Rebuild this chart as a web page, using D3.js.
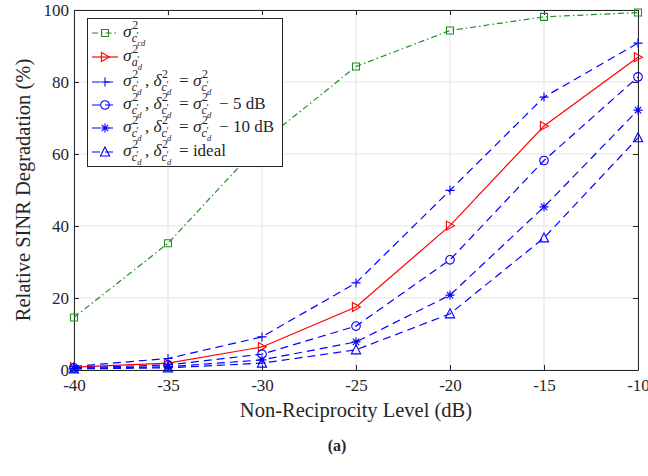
<!DOCTYPE html>
<html>
<head>
<meta charset="utf-8">
<script src="https://cdn.jsdelivr.net/npm/d3@7"></script>
<style>
  body { margin: 0; background: #fff; }
  svg text { font-family: "Liberation Serif", "DejaVu Serif", serif; fill: #262626; white-space: pre; }
</style>
</head>
<body>
<svg id="chart" width="648" height="476"></svg>
<script>
// values
var levels = [-40, -35, -30, -25, -20, -15, -10];
var xTicks = [-40, -35, -30, -25, -20, -15, -10];
var yTicks = [0, 20, 40, 60, 80, 100];

var sigmaCd   = [14.6, 35.2, 63.3, 84.3, 94.3, 98.1, 99.3];
var sigmaAd   = [0.8, 1.9, 6.4, 17.5, 40.1, 67.8, 86.9];
var deltaEq   = [1.0, 3.2, 9.2, 24.2, 49.9, 75.8, 90.8];
var deltaM5   = [0.6, 1.4, 4.4, 12.2, 30.6, 58.2, 81.4];
var deltaM10  = [0.4, 0.9, 2.8, 7.8, 20.8, 45.3, 72.2];
var deltaIdl  = [0.3, 0.6, 1.9, 5.6, 15.6, 36.7, 64.5];

var seriesNames = ["sigmaCd", "sigmaAd", "deltaEq", "deltaM5", "deltaM10", "deltaIdl"];

var svg = d3.select("#chart");
var plotL = 74, plotR = 638, plotT = 10, plotB = 370;

var x = d3.scaleLinear().domain([-40, -10]).range([plotL, plotR]);
var y = d3.scaleLinear().domain([0, 100]).range([plotB, plotT]);

// grid
svg.append("g").selectAll("line").data(xTicks).join("line")
    .attr("x1", d => x(d)).attr("x2", d => x(d))
    .attr("y1", plotT).attr("y2", plotB)
    .style("stroke", "#e3e3e3").style("stroke-width", "1px");
svg.append("g").selectAll("line").data(yTicks).join("line")
    .attr("x1", plotL).attr("x2", plotR)
    .attr("y1", d => y(d)).attr("y2", d => y(d))
    .style("stroke", "#e3e3e3").style("stroke-width", "1px");

// axes, ticks pointing inwards
function styleAxis(g) {
  g.selectAll("path, line").style("stroke", "#262626").style("stroke-width", "1px");
  g.selectAll("text").style("font-size", "17px").style("font-family", '"Liberation Serif", serif').style("fill", "#262626");
}
svg.append("g").attr("transform", "translate(0," + plotB + ")")
    .call(d3.axisBottom(x).tickValues(xTicks).tickFormat(d => String(d)).tickSizeInner(-5).tickSizeOuter(0).tickPadding(9))
    .call(styleAxis);
svg.append("g").attr("transform", "translate(0," + plotT + ")")
    .call(d3.axisTop(x).tickValues(xTicks).tickFormat("").tickSizeInner(-5).tickSizeOuter(0))
    .call(styleAxis);
svg.append("g").attr("transform", "translate(" + plotL + ",0)")
    .call(d3.axisLeft(y).tickValues(yTicks).tickFormat(d => String(d)).tickSizeInner(-5).tickSizeOuter(0).tickPadding(5))
    .call(styleAxis);
svg.append("g").attr("transform", "translate(" + plotR + ",0)")
    .call(d3.axisRight(y).tickValues(yTicks).tickFormat("").tickSizeInner(-5).tickSizeOuter(0))
    .call(styleAxis);

// markers (shape only, centred at 0,0)
var markerPath = {
  square:  "M-3.5,-3.5H3.5V3.5H-3.5Z",
  tright:  "M-3.6,-4.5L4.4,0L-3.6,4.5Z",
  plus:    "M-4.5,0H4.5M0,-4.5V4.5",
  circle:  "M4.3,0A4.3,4.3 0 1,1 -4.3,0A4.3,4.3 0 1,1 4.3,0Z",
  star:    "M-4.5,0H4.5M0,-4.5V4.5M-3.2,-3.2L3.2,3.2M-3.2,3.2L3.2,-3.2",
  tup:     "M0,-5L4.6,4L-4.6,4Z"
};

var styles = {
  sigmaCd:  { color: "#1f8f1f", dash: "6,3,1.5,3", marker: "square" },
  sigmaAd:  { color: "#ff0000", dash: null,        marker: "tright" },
  deltaEq:  { color: "#0000ff", dash: "8,5",       marker: "plus" },
  deltaM5:  { color: "#0000ff", dash: "8,5",       marker: "circle" },
  deltaM10: { color: "#0000ff", dash: "8,5",       marker: "star" },
  deltaIdl: { color: "#0000ff", dash: "8,5",       marker: "tup" }
};
var values = { sigmaCd: sigmaCd, sigmaAd: sigmaAd, deltaEq: deltaEq, deltaM5: deltaM5, deltaM10: deltaM10, deltaIdl: deltaIdl };

var line = d3.line().x((d, i) => x(levels[i])).y(d => y(d));

seriesNames.forEach(function(name) {
  var s = styles[name];
  var g = svg.append("g");
  g.append("path")
      .attr("d", line(values[name]))
      .style("fill", "none")
      .style("stroke", s.color)
      .style("stroke-width", "1.2px")
      .style("stroke-dasharray", s.dash);
  g.selectAll("path.m").data(values[name]).join("path")
      .attr("class", "m")
      .attr("transform", (d, i) => "translate(" + x(levels[i]) + "," + y(d) + ")")
      .attr("d", markerPath[s.marker])
      .style("fill", "none")
      .style("stroke", s.color)
      .style("stroke-width", "1.1px");
});

// legend
var legendLabels = [
  [["σ", "2", "c", "cd"]],
  [["σ", "2", "a", "d"]],
  [["σ", "2", "c", "d"], ", ", ["δ", "2", "c", "d"], " = ", ["σ", "2", "c", "d"]],
  [["σ", "2", "c", "d"], ", ", ["δ", "2", "c", "d"], " = ", ["σ", "2", "c", "d"], " − 5 dB"],
  [["σ", "2", "c", "d"], ", ", ["δ", "2", "c", "d"], " = ", ["σ", "2", "c", "d"], " − 10 dB"],
  [["σ", "2", "c", "d"], ", ", ["δ", "2", "c", "d"], " = ideal"]
];
var legendRows = [33, 57, 82, 105, 128, 152];

var lg = svg.append("g");
lg.append("rect").attr("x", 87.5).attr("y", 18.5).attr("width", 195).attr("height", 148)
    .style("fill", "#fff").style("stroke", "#262626").style("stroke-width", "1px");

function put(g, txt, px, py, size, italic) {
  var t = g.append("text").attr("x", px).attr("y", py)
      .style("font-size", size + "px")
      .style("font-style", italic ? "italic" : "normal")
      .text(txt);
  return t.node().getComputedTextLength();
}

function drawMath(g, x0, yb, parts) {
  var cx = x0;
  parts.forEach(function(p) {
    if (typeof p === "string") {
      cx += put(g, p, cx, yb, 17, false);
    } else {
      cx += put(g, p[0], cx, yb, 17.5, true);
      var w1 = put(g, p[1], cx + 0.5, yb - 8, 12, false);
      var w2 = put(g, p[2], cx, yb + 5, 12, true);
      w2 += put(g, "′", cx + w2 - 0.5, yb + 2, 10, false);
      w2 += put(g, p[3], cx + w2 - 2, yb + 9, 8.5, true);
      cx += Math.max(w1, w2) + 1.5;
    }
  });
}

seriesNames.forEach(function(name, i) {
  var s = styles[name];
  var ry = legendRows[i];
  lg.append("line").attr("x1", 92).attr("x2", 118).attr("y1", ry).attr("y2", ry)
      .style("stroke", s.color).style("stroke-width", "1.2px")
      .style("stroke-dasharray", s.dash);
  lg.append("path").attr("transform", "translate(105," + ry + ")")
      .attr("d", markerPath[s.marker])
      .style("fill", "none").style("stroke", s.color).style("stroke-width", "1.1px");
  drawMath(lg, 123, ry + 4, legendLabels[i]);
});

// labels
svg.append("text")
    .attr("x", (plotL + plotR) / 2).attr("y", 417)
    .attr("text-anchor", "middle")
    .style("font-size", "20.5px")
    .text("Non-Reciprocity Level (dB)");

svg.append("text")
    .attr("transform", "translate(30," + (plotT + plotB) / 2 + ") rotate(-90)")
    .attr("text-anchor", "middle")
    .style("font-size", "20.5px")
    .text("Relative SINR Degradation (%)");

svg.append("text")
    .attr("x", 337).attr("y", 451)
    .attr("text-anchor", "middle")
    .style("font-size", "16px")
    .style("font-weight", "bold")
    .text("(a)");
</script>
</body>
</html>
